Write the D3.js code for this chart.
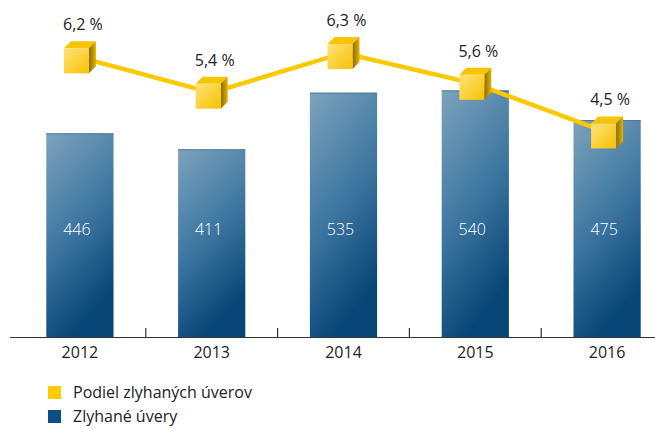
<!DOCTYPE html>
<html>
<head>
<meta charset="utf-8">
<script src="https://cdn.jsdelivr.net/npm/d3@7"></script>
<style>
  body { margin: 0; background: #fff; }
  text { font-family: "Open Sans", "DejaVu Sans", sans-serif; }
</style>
</head>
<body>
<div id="chart"></div>
<script>
// data
const years = ["2012", "2013", "2014", "2015", "2016"];
const defaultedLoans = [446, 411, 535, 540, 475];
const defaultShare = [6.2, 5.4, 6.3, 5.6, 4.5];
const shareLabels = ["6,2 %", "5,4 %", "6,3 %", "5,6 %", "4,5 %"];
const legendLabels = ["Podiel zlyhaných úverov", "Zlyhané úvery"];

const width = 655;
const height = 429;
const baseY = 337;

const svg = d3.select("#chart")
  .append("svg")
  .attr("width", width)
  .attr("height", height);

const defs = svg.append("defs");

const barGrad = defs.append("linearGradient")
  .attr("id", "barGrad")
  .attr("x1", "0").attr("y1", "0")
  .attr("x2", "0.35").attr("y2", "1");
barGrad.append("stop").attr("offset", "0%").attr("stop-color", "#7da3bd");
barGrad.append("stop").attr("offset", "55%").attr("stop-color", "#3d76a0");
barGrad.append("stop").attr("offset", "100%").attr("stop-color", "#084677");

const frontGrad = defs.append("linearGradient")
  .attr("id", "frontGrad")
  .attr("x1", "0").attr("y1", "0")
  .attr("x2", "1").attr("y2", "1");
frontGrad.append("stop").attr("offset", "0%").attr("stop-color", "#ffe27a");
frontGrad.append("stop").attr("offset", "100%").attr("stop-color", "#f6c200");

const sideGrad = defs.append("linearGradient")
  .attr("id", "sideGrad")
  .attr("x1", "0").attr("y1", "0")
  .attr("x2", "1").attr("y2", "0");
sideGrad.append("stop").attr("offset", "0%").attr("stop-color", "#8c6c00");
sideGrad.append("stop").attr("offset", "100%").attr("stop-color", "#e2b200");

const x = d3.scaleBand()
  .domain(years)
  .range([14, 673])
  .paddingInner(0.49)
  .paddingOuter(0.245);

const yBar = d3.scaleLinear().domain([0, 738]).range([baseY, 0]);
const yLine = d3.scaleLinear().domain([0, 7.5]).range([331, 0]);

// bars
svg.selectAll("rect.bar")
  .data(years)
  .join("rect")
  .attr("class", "bar")
  .attr("x", d => x(d))
  .attr("y", (d, i) => yBar(defaultedLoans[i]))
  .attr("width", x.bandwidth())
  .attr("height", (d, i) => baseY - yBar(defaultedLoans[i]))
  .attr("fill", "url(#barGrad)");

svg.selectAll("line.bartop")
  .data(years)
  .join("line")
  .attr("class", "bartop")
  .attr("x1", d => x(d))
  .attr("x2", d => x(d) + x.bandwidth())
  .attr("y1", (d, i) => yBar(defaultedLoans[i]) + 0.5)
  .attr("y2", (d, i) => yBar(defaultedLoans[i]) + 0.5)
  .attr("stroke", "#4f7a9a")
  .attr("stroke-width", 1);

svg.selectAll("text.barval")
  .data(years)
  .join("text")
  .attr("class", "barval")
  .attr("x", d => x(d) + x.bandwidth() / 2 - 3)
  .attr("y", 235)
  .attr("text-anchor", "middle")
  .attr("fill", "#fff")
  .attr("font-size", "16px")
  .attr("font-weight", 300)
  .text((d, i) => defaultedLoans[i]);

// axis
svg.append("line")
  .attr("x1", 10).attr("x2", width)
  .attr("y1", baseY + 0.5).attr("y2", baseY + 0.5)
  .attr("stroke", "#333").attr("stroke-width", 1.2);

svg.selectAll("line.tick")
  .data(years.slice(1))
  .join("line")
  .attr("class", "tick")
  .attr("x1", d => x(d) - x.step() * x.paddingInner() / 2)
  .attr("x2", d => x(d) - x.step() * x.paddingInner() / 2)
  .attr("y1", baseY - 9)
  .attr("y2", baseY)
  .attr("stroke", "#333")
  .attr("stroke-width", 1.2);

svg.selectAll("text.year")
  .data(years)
  .join("text")
  .attr("class", "year")
  .attr("x", d => x(d) + x.bandwidth() / 2)
  .attr("y", 358)
  .attr("text-anchor", "middle")
  .attr("fill", "#222")
  .attr("font-size", "16px")
  .text(d => d);

// line
const cx = d => x(d) + x.bandwidth() / 2;
const line = d3.line()
  .x(d => cx(d))
  .y((d, i) => yLine(defaultShare[i]));

svg.append("path")
  .datum(years)
  .attr("d", line)
  .attr("fill", "none")
  .attr("stroke", "#fbc900")
  .attr("stroke-width", 4.5);

// cube markers
const s = 25, dep = 7;
const cubes = svg.selectAll("g.cube")
  .data(years)
  .join("g")
  .attr("class", "cube")
  .attr("transform", (d, i) => `translate(${cx(d) - (s + dep) / 2},${yLine(defaultShare[i]) - (s - dep) / 2})`);

cubes.append("path")
  .attr("d", `M0,0 L${dep},${-dep} L${s + dep},${-dep} L${s},0 Z`)
  .attr("fill", "#f7c400");
cubes.append("path")
  .attr("d", `M${s},0 L${s + dep},${-dep} L${s + dep},${s - dep} L${s},${s} Z`)
  .attr("fill", "url(#sideGrad)");
cubes.append("rect")
  .attr("x", 0).attr("y", 0)
  .attr("width", s).attr("height", s)
  .attr("fill", "url(#frontGrad)");

svg.selectAll("text.share")
  .data(years)
  .join("text")
  .attr("class", "share")
  .attr("x", d => cx(d) + 3)
  .attr("y", (d, i) => yLine(defaultShare[i]) - 27)
  .attr("text-anchor", "middle")
  .attr("fill", "#222")
  .attr("font-size", "16px")
  .text((d, i) => shareLabels[i]);

// legend
const legendColors = ["#ffcc00", "#0d4f85"];
const legend = svg.selectAll("g.legend")
  .data(legendLabels)
  .join("g")
  .attr("class", "legend")
  .attr("transform", (d, i) => `translate(48,${386 + i * 24})`);

legend.append("rect")
  .attr("width", 13).attr("height", 13)
  .attr("fill", (d, i) => legendColors[i]);

legend.append("text")
  .attr("x", 25)
  .attr("y", 12)
  .attr("fill", "#222")
  .attr("font-size", "16px")
  .text(d => d);
</script>
</body>
</html>
